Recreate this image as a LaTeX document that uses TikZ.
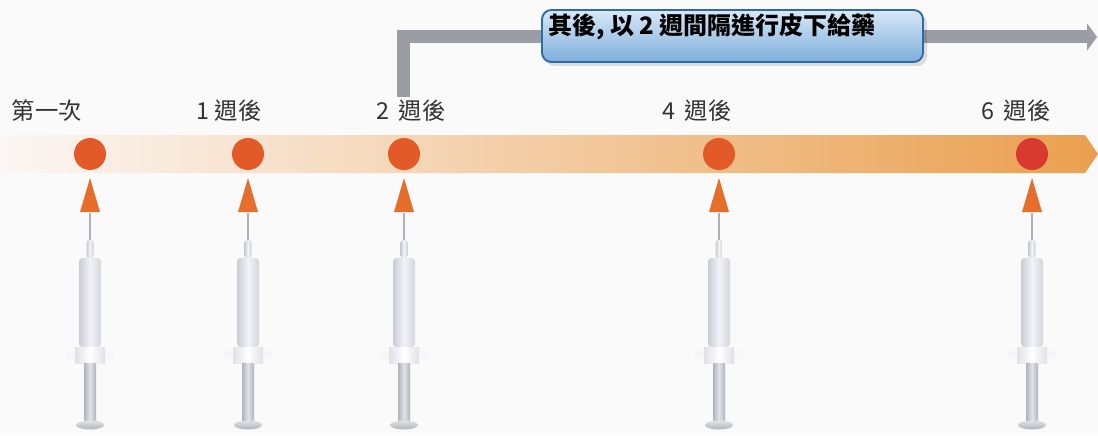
\documentclass[tikz,border=0pt]{standalone}
\usepackage{fontspec}
\setmainfont{Noto Sans CJK TC}
\usetikzlibrary{arrows.meta}

\definecolor{paper}{HTML}{FAFAFB}
\definecolor{bandL}{HTML}{FBF7F5}
\definecolor{bandM}{HTML}{E9C7A6}
\definecolor{bandR}{HTML}{EA9F4E}
\definecolor{dot}{HTML}{E15A27}
\definecolor{dotlast}{HTML}{D93A2F}
\definecolor{pointer}{HTML}{E66E2A}
\definecolor{bracket}{HTML}{9C9CA4}
\definecolor{boxtop}{HTML}{D8E8F7}
\definecolor{boxbot}{HTML}{7EAEDC}
\definecolor{boxedge}{HTML}{2F69A6}
\definecolor{inktext}{HTML}{333333}
\definecolor{glassL}{HTML}{CBCBD7}
\definecolor{glassM}{HTML}{F2F2F7}
\definecolor{rodL}{HTML}{B2B2BC}
\definecolor{rodM}{HTML}{E2E2E8}

\tikzset{
  dosedot/.style={circle, fill=dot, minimum size=32*0.75pt, inner sep=0pt},
  weeklabel/.style={text=inktext, font=\fontsize{17.5pt}{20pt}\selectfont, inner sep=0pt},
  titlebox/.style={draw=boxedge, line width=1.4pt, rounded corners=7pt,
    top color=boxtop, bottom color=boxbot, minimum width=381*0.75pt,
    minimum height=52*0.75pt, inner sep=0pt},
  titletext/.style={font=\fontsize{18pt}{20pt}\selectfont\bfseries, text=black, inner sep=0pt},
  schedule/.style={draw=bracket, line width=13*0.75pt, line join=miter,
    -{Triangle[length=10*0.75pt, width=27*0.75pt]}},
  syringe/.pic={
    % needle
    \draw[bracket!80, line width=0.8pt] (0,0) -- (0,28);
    % hub
    \shade[left color=glassL, right color=glassL, middle color=glassM, rounded corners=2pt]
      (-3.5,45) -- (-3.5,27) -- (3.5,27) -- (3.5,45) -- cycle;
    % barrel
    \shade[left color=glassL, right color=glassL!80, middle color=glassM, rounded corners=2.5pt]
      (-11,134) -- (-11,45) -- (11,45) -- (11,134) -- cycle;
    % finger flange
    \fill[glassM!70!white, opacity=0.8] (-24,138) rectangle (24,146);
    \shade[left color=glassL!60, right color=glassL!60, middle color=white]
      (-15,134) rectangle (15,150);
    % plunger rod
    \shade[left color=rodL, right color=rodL, middle color=rodM] (-6,150) rectangle (6,208);
    % thumb plate
    \shade[top color=rodM, bottom color=rodL] (0,212) ellipse [x radius=14, y radius=4.5];
  }
}

\begin{document}
\begin{tikzpicture}[x=0.75pt, y=-0.75pt]
  \useasboundingbox (0,0) rectangle (1098,435);
  \fill[paper] (0,0) rectangle (1098,435);

  % time band with arrow point
  \shade[left color=bandL, middle color=bandM, right color=bandR]
    (0,135) -- (1085,135) -- (1098,154) -- (1085,173) -- (0,173) -- cycle;

  % dose points on the band
  \node[dosedot] (d1) at (90,154) {};
  \node[dosedot] (d2) at (248,154) {};
  \node[dosedot] (d3) at (404,154) {};
  \node[dosedot] (d4) at (719,154) {};
  \node[dosedot, fill=dotlast] (d5) at (1032,154) {};

  % week labels
  \node[weeklabel] (l1) at (47,111) {第一次};
  \node[weeklabel] (l2) at (229,111) {1 週後};
  \node[weeklabel] (l3) at (411,111) {2\hspace{3pt} 週後};
  \node[weeklabel] (l4) at (697,111) {4\hspace{3pt} 週後};
  \node[weeklabel] (l5) at (1016,111) {6\hspace{3pt} 週後};

  % pointers and syringes under each dose
  \foreach \x in {90,248,404,719,1032} {
    \fill[pointer] (\x-10,212) -- (\x,178) -- (\x+10,212) -- cycle;
    \pic at (\x,213) {syringe};
  }

  % every-two-weeks bracket from the week-2 dose onward
  \coordinate (bstart) at (403,97);
  \coordinate (bend) at (1097,37);
  \draw[schedule] (bstart) |- (bend);

  % caption box on the bracket
  \fill[black, opacity=0.12, rounded corners=7pt] (545,14) rectangle (927,66);
  \node[titlebox] (cap) at (732.5,36) {};
  \node[titletext] (captext) at (712,27) {其後, 以 2 週間隔進行皮下給藥};
\end{tikzpicture}
\end{document}
